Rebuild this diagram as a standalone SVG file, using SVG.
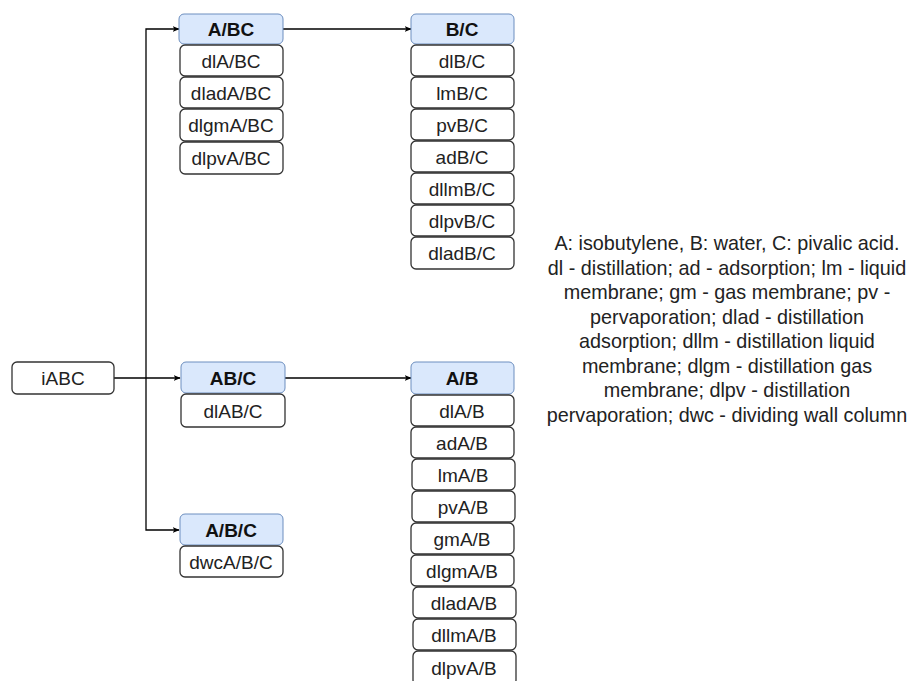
<svg xmlns="http://www.w3.org/2000/svg" width="913" height="681" viewBox="0 0 913 681">
  <style>
    .hdr rect { fill: #dae8fc; stroke: #6c8ebf; stroke-width: 1; }
    .opt rect { fill: #ffffff; stroke: #333333; stroke-width: 1.3; }
    text { font-family: "Liberation Sans", Arial, sans-serif; font-size: 19px; fill: #222222; text-anchor: middle; dominant-baseline: central; }
    .hdr text { font-weight: bold; fill: #111111; }
    .edge { fill: none; stroke: #000000; stroke-width: 1.3; }
    .legend text { font-size: 19.8px; fill: #222222; }
  </style>
  <defs>
    <marker id="arrow" viewBox="0 0 10 10" refX="9" refY="5" markerWidth="7" markerHeight="7" orient="auto" markerUnits="userSpaceOnUse">
      <path d="M0,1 L10,5 L0,9 L2.5,5 Z" fill="#000000"/>
    </marker>
  </defs>
  <rect width="913" height="681" fill="#ffffff"/>

  <!-- connectors -->
  <g id="connectors">
    <path class="edge" d="M114,378 L180,378" marker-end="url(#arrow)"/>
    <path class="edge" d="M146,378 L146,29 L179,29" marker-end="url(#arrow)"/>
    <path class="edge" d="M146,378 L146,530 L179,530" marker-end="url(#arrow)"/>
    <path class="edge" d="M283,29 L411,29" marker-end="url(#arrow)"/>
    <path class="edge" d="M285,378 L411,378" marker-end="url(#arrow)"/>
  </g>

  <!-- start node -->
  <g id="iABC" class="opt">
    <rect x="12" y="362" width="102" height="32" rx="5"/>
    <text x="63" y="378">iABC</text>
  </g>

  <!-- A/BC split -->
  <g id="A_BC">
    <g class="hdr"><rect x="179" y="14" width="104" height="30" rx="5"/><text x="231" y="29">A/BC</text></g>
    <g class="opt"><rect x="180" y="45" width="103" height="31" rx="5"/><text x="231" y="61">dlA/BC</text></g>
    <g class="opt"><rect x="180" y="77" width="103" height="31" rx="5"/><text x="231" y="93">dladA/BC</text></g>
    <g class="opt"><rect x="180" y="109" width="103" height="32" rx="5"/><text x="231" y="125">dlgmA/BC</text></g>
    <g class="opt"><rect x="180" y="142" width="103" height="32" rx="5"/><text x="231" y="158">dlpvA/BC</text></g>
  </g>

  <!-- B/C split -->
  <g id="B_C">
    <g class="hdr"><rect x="411" y="14" width="103" height="30" rx="5"/><text x="462" y="29">B/C</text></g>
    <g class="opt"><rect x="411" y="45" width="103" height="31" rx="5"/><text x="462" y="61">dlB/C</text></g>
    <g class="opt"><rect x="411" y="77" width="103" height="31" rx="5"/><text x="462" y="93">lmB/C</text></g>
    <g class="opt"><rect x="411" y="109" width="103" height="31" rx="5"/><text x="462" y="125">pvB/C</text></g>
    <g class="opt"><rect x="411" y="141" width="103" height="31" rx="5"/><text x="462" y="157">adB/C</text></g>
    <g class="opt"><rect x="411" y="173" width="103" height="31" rx="5"/><text x="462" y="189">dllmB/C</text></g>
    <g class="opt"><rect x="411" y="205" width="103" height="31" rx="5"/><text x="462" y="221">dlpvB/C</text></g>
    <g class="opt"><rect x="411" y="237" width="103" height="32" rx="5"/><text x="462" y="253">dladB/C</text></g>
  </g>

  <!-- AB/C split -->
  <g id="AB_C">
    <g class="hdr"><rect x="181" y="362" width="104" height="31" rx="5"/><text x="233" y="378">AB/C</text></g>
    <g class="opt"><rect x="181" y="394" width="104" height="33" rx="5"/><text x="233" y="411">dlAB/C</text></g>
  </g>

  <!-- A/B/C split -->
  <g id="A_B_C">
    <g class="hdr"><rect x="180" y="514" width="103" height="31" rx="5"/><text x="231" y="530">A/B/C</text></g>
    <g class="opt"><rect x="180" y="546" width="103" height="31" rx="5"/><text x="231" y="562">dwcA/B/C</text></g>
  </g>

  <!-- A/B split -->
  <g id="A_B">
    <g class="hdr"><rect x="411" y="362" width="103" height="32" rx="5"/><text x="462" y="378">A/B</text></g>
    <g class="opt"><rect x="411" y="395" width="103" height="31" rx="5"/><text x="462" y="411">dlA/B</text></g>
    <g class="opt"><rect x="411" y="427" width="103" height="31" rx="5"/><text x="462" y="443">adA/B</text></g>
    <g class="opt"><rect x="412" y="459" width="103" height="31" rx="5"/><text x="463" y="475">lmA/B</text></g>
    <g class="opt"><rect x="412" y="491" width="103" height="31" rx="5"/><text x="463" y="507">pvA/B</text></g>
    <g class="opt"><rect x="411" y="523" width="103" height="31" rx="5"/><text x="462" y="539">gmA/B</text></g>
    <g class="opt"><rect x="411" y="555" width="103" height="31" rx="5"/><text x="462" y="571">dlgmA/B</text></g>
    <g class="opt"><rect x="413" y="587" width="103" height="31" rx="5"/><text x="464" y="603">dladA/B</text></g>
    <g class="opt"><rect x="413" y="619" width="103" height="31" rx="5"/><text x="464" y="635">dllmA/B</text></g>
    <g class="opt"><rect x="413" y="651" width="103" height="34" rx="5"/><text x="464" y="668">dlpvA/B</text></g>
  </g>

  <!-- abbreviation legend -->
  <g id="legend" class="legend">
    <text x="727" y="243">A: isobutylene, B: water, C: pivalic acid.</text>
    <text x="727" y="268">dl - distillation; ad - adsorption; lm - liquid</text>
    <text x="727" y="292">membrane; gm - gas membrane; pv -</text>
    <text x="727" y="317">pervaporation; dlad - distillation</text>
    <text x="727" y="341">adsorption; dllm - distillation liquid</text>
    <text x="727" y="366">membrane; dlgm - distillation gas</text>
    <text x="727" y="390">membrane; dlpv - distillation</text>
    <text x="727" y="415">pervaporation; dwc - dividing wall column</text>
  </g>
</svg>
